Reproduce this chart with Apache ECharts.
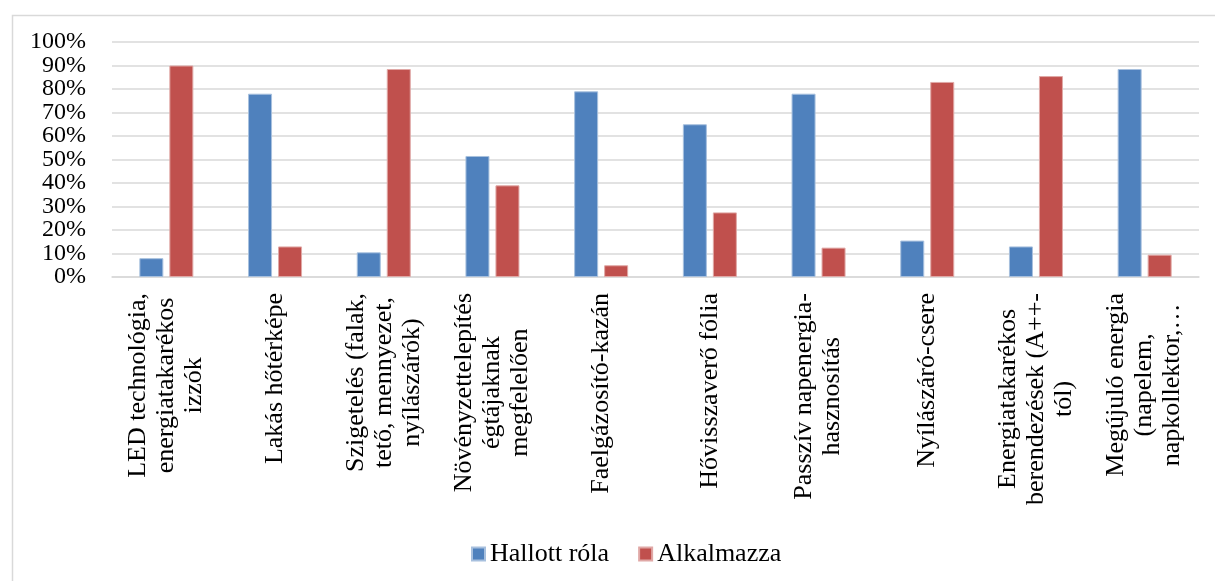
<!DOCTYPE html>
<html>
<head>
<meta charset="utf-8">
<script src="https://cdn.jsdelivr.net/npm/echarts@6/dist/echarts.min.js"></script>
<style>
    html, body { margin: 0; padding: 0; background: #fff; }
    #main { width: 1215px; height: 581px; }
</style>
</head>
<body>
<div id="main"></div>
<script>
    // kategóriák (sortörésekkel, ahogy az eredeti ábrán)
    var categories = [
        'LED technológia,\nenergiatakarékos\nizzók',
        'Lakás hőtérképe',
        'Szigetelés (falak,\ntető, mennyezet,\nnyílászárók)',
        'Növényzettelepítés\négtájaknak\nmegfelelően',
        'Faelgázosító-kazán',
        'Hővisszaverő fólia',
        'Passzív napenergia-\nhasznosítás',
        'Nyílászáró-csere',
        'Energiatakarékos\nberendezések (A++-\ntól)',
        'Megújuló energia\n(napelem,\nnapkollektor,…'
    ];
    var seriesNames = ['Hallott róla', 'Alkalmazza'];
    var hallottRola = [8, 78, 10.5, 51.5, 79, 65, 78, 15.5, 13, 88.5];
    var alkalmazza = [90, 13, 88.5, 39, 5, 27.5, 12.5, 83, 85.5, 9.5];

    var font = "Liberation Serif";

    var myChart = echarts.init(document.getElementById('main'));

    // két bal oldali tengely: egyik a páros, másik a páratlan tízeseket írja ki,
    // így a sűrű feliratokat nem rejti el az átfedés-vizsgálat
    function yAxisDef(even) {
        return {
            type: 'value',
            position: 'left',
            offset: 0,
            min: 0,
            max: 100,
            interval: 10,
            axisLine: {show: false},
            axisTick: {show: false},
            axisLabel: {
                formatter: function (v) {
                    return ((v / 10) % 2 === 0) === even ? v + '%' : '';
                },
                margin: 26,
                color: '#000',
                fontFamily: font,
                fontSize: 24,
                showMinLabel: true,
                showMaxLabel: true
            },
            splitLine: {show: even, lineStyle: {color: '#D9D9D9', width: 1.5}}
        };
    }

    var option = {
        backgroundColor: '#fff',
        animation: false,
        color: ['#4F81BD', '#C0504D'],
        textStyle: {fontFamily: font},
        graphic: [{
            type: 'rect',
            left: 10,
            top: 13,
            shape: {width: 1300, height: 700},
            style: {fill: 'none', stroke: '#D9D9D9', lineWidth: 1.5},
            silent: true
        }],
        legend: {
            data: seriesNames,
            left: 466,
            top: 536,
            itemWidth: 13,
            itemHeight: 13,
            itemGap: 29,
            icon: 'rect',
            formatter: '{t|{name}}',
            textStyle: {
                fontFamily: font,
                fontSize: 26,
                color: '#000',
                rich: {t: {fontFamily: font, fontSize: 26, color: '#000'}}
            }
        },
        grid: {
            left: 112,
            right: 16,
            top: 42,
            bottom: 304
        },
        xAxis: {
            type: 'category',
            data: categories,
            axisTick: {show: false},
            axisLine: {lineStyle: {color: '#D9D9D9', width: 1.5}},
            axisLabel: {
                interval: 0,
                rotate: 90,
                margin: 16,
                color: '#000',
                fontFamily: font,
                fontSize: 26,
                lineHeight: 28,
                formatter: function (value) {
                    // minden sor külön töredék, hogy középre igazodjon
                    return value.split('\n').map(function (s) {
                        return '{c|' + s + '}';
                    }).join('\n');
                },
                rich: {
                    c: {align: 'center', fontFamily: font, fontSize: 26, lineHeight: 28, color: '#000'}
                }
            }
        },
        yAxis: [yAxisDef(true), yAxisDef(false)],
        series: [
            {
                name: seriesNames[0],
                type: 'bar',
                barWidth: 24,
                barGap: '25%',
                data: hallottRola,
                itemStyle: {borderColor: '#A7C0DE', borderWidth: 1}
            },
            {
                name: seriesNames[1],
                type: 'bar',
                barWidth: 24,
                data: alkalmazza,
                itemStyle: {borderColor: '#E0A8A6', borderWidth: 1}
            }
        ]
    };

    myChart.setOption(option);
</script>
</body>
</html>
